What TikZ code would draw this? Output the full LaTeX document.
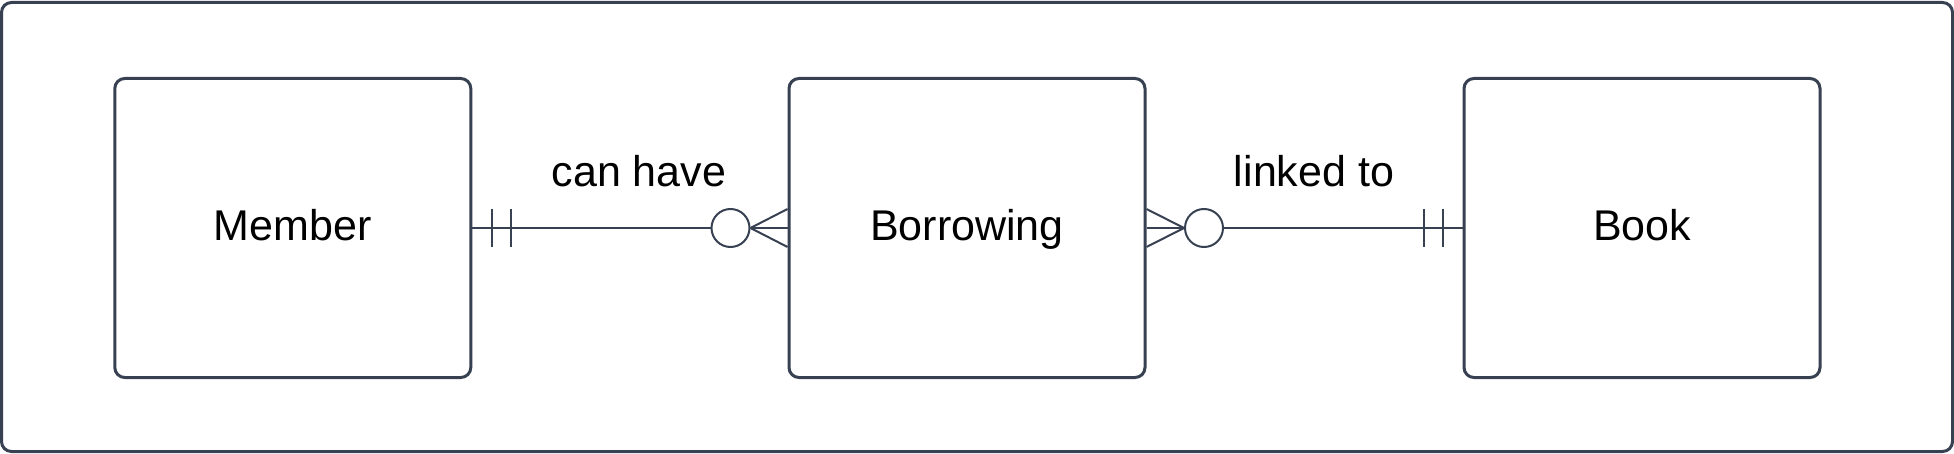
\documentclass[tikz,border=0pt]{standalone}
\usepackage{fontspec}
\setmainfont{Liberation Sans}
\definecolor{ink}{RGB}{55,65,81}
\begin{document}
\begin{tikzpicture}[x=0.5pt,y=-0.5pt,
  entity/.style={draw=ink,line width=1.5pt,rounded corners=5pt,minimum width=178pt,minimum height=149.5pt,inner sep=0pt,font=\fontsize{21.5}{26}\selectfont,text=black,text height=15.5pt,text depth=2.8pt},
  rel/.style={draw=ink,line width=1pt},
  zero/.style={circle,draw=ink,line width=1pt,fill=white,minimum size=19pt,inner sep=0pt},
  lbl/.style={font=\fontsize{21.5}{26}\selectfont,text=black,anchor=base,inner sep=0pt}]
\useasboundingbox (0,0) rectangle (1954,454);
\draw[draw=ink,line width=1.5pt,rounded corners=5pt] (1.5,2.5) rectangle (1952.5,451.5);
\node[entity] (member) at (292.8,228) {Member};
\node[entity] (borrowing) at (967,228) {Borrowing};
\node[entity] (book) at (1642,228) {Book};
\node[zero] (z1) at (730.5,228) {};
\node[zero] (z2) at (1204,228) {};
% member -> borrowing
\draw[rel] (member.east) -- (z1.west);
\draw[rel] (z1.east) -- (borrowing.west);
\draw[rel] (z1.east) -- ([yshift=9.5pt]borrowing.west);
\draw[rel] (z1.east) -- ([yshift=-9.5pt]borrowing.west);
\coordinate (t1) at ([xshift=9.8pt]member.east);
\coordinate (t2) at ([xshift=19.5pt]member.east);
\draw[rel] ([yshift=9.5pt]t1) -- ([yshift=-9.5pt]t1);
\draw[rel] ([yshift=9.5pt]t2) -- ([yshift=-9.5pt]t2);
% borrowing -> book
\draw[rel] (z2.east) -- (book.west);
\draw[rel] (z2.west) -- (borrowing.east);
\draw[rel] (z2.west) -- ([yshift=9.5pt]borrowing.east);
\draw[rel] (z2.west) -- ([yshift=-9.5pt]borrowing.east);
\coordinate (t3) at ([xshift=-19.2pt]book.west);
\coordinate (t4) at ([xshift=-9.7pt]book.west);
\draw[rel] ([yshift=9.5pt]t3) -- ([yshift=-9.5pt]t3);
\draw[rel] ([yshift=9.5pt]t4) -- ([yshift=-9.5pt]t4);
\node[lbl] (l1) at (639,187) {can have};
\node[lbl] (l2) at (1314,187) {linked to};
\end{tikzpicture}
\end{document}
